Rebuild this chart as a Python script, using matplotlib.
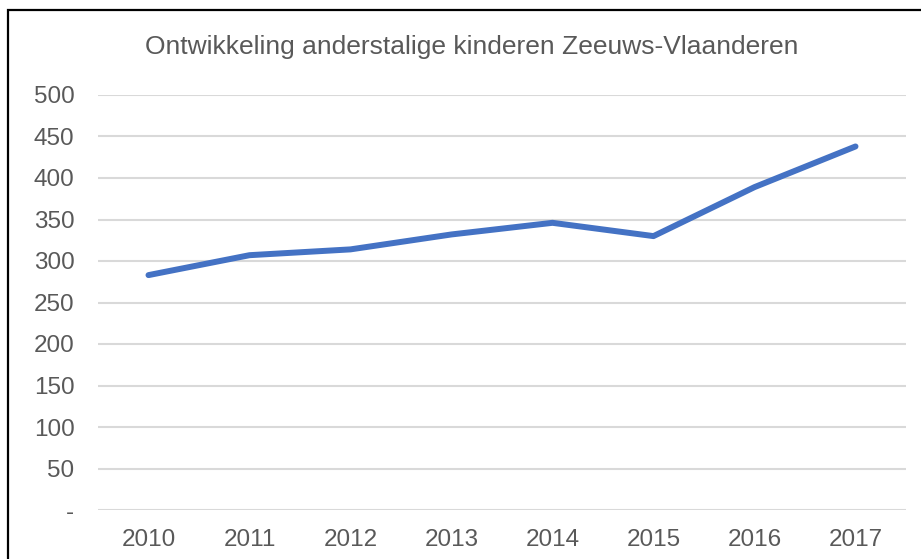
import matplotlib
matplotlib.use('Agg')
import matplotlib.pyplot as plt
from matplotlib.patches import Rectangle

# data
years = ['2010', '2011', '2012', '2013', '2014', '2015', '2016', '2017']
kinderen = [283, 307, 314, 332, 346, 330, 389, 438]
yticks = [0, 50, 100, 150, 200, 250, 300, 350, 400, 450, 500]
ytick_labels = ['-', '50', '100', '150', '200', '250', '300', '350', '400', '450', '500']
title = 'Ontwikkeling anderstalige kinderen Zeeuws-Vlaanderen'

W, H = 921, 559
fig = plt.figure(figsize=(W / 100, H / 100), dpi=100)
fig.patch.set_facecolor('white')

# plot area in pixels: x 98..906, y 95..510
ax = fig.add_axes([98 / W, 1 - 510 / H, (906 - 98) / W, (510 - 95) / H])
x = range(len(years))
ax.plot(x, kinderen, color='#4472C4', lw=4.3, solid_capstyle='round', solid_joinstyle='round', zorder=3)

ax.set_xlim(-0.5, len(years) - 0.5)
ax.set_ylim(0, 500)
ax.set_yticks(yticks)
ax.set_yticklabels(ytick_labels)
ax.set_xticks(list(x))
ax.set_xticklabels(years)
ax.grid(axis='y', color='#D9D9D9', lw=1.5)
ax.set_axisbelow(True)
for s in ax.spines.values():
    s.set_visible(False)
ax.tick_params(length=0, colors='#595959', labelsize=17.5, labelfontfamily=['Liberation Sans', 'DejaVu Sans'])
ax.tick_params(axis='y', pad=17)
ax.tick_params(axis='x', pad=14)

fig.text(472 / W, 1 - 47 / H, title, ha='center', va='center', fontsize=19,
         color='#595959', family=['Liberation Sans', 'DejaVu Sans'])

# chart border (right and bottom edges run past the screenshot)
fig.patches.append(Rectangle((8 / W, -0.05), 1.0, 1 - 10 / H + 0.05, transform=fig.transFigure,
                             fill=False, edgecolor='black', lw=1.6))

fig.savefig('out.png', dpi=100)
